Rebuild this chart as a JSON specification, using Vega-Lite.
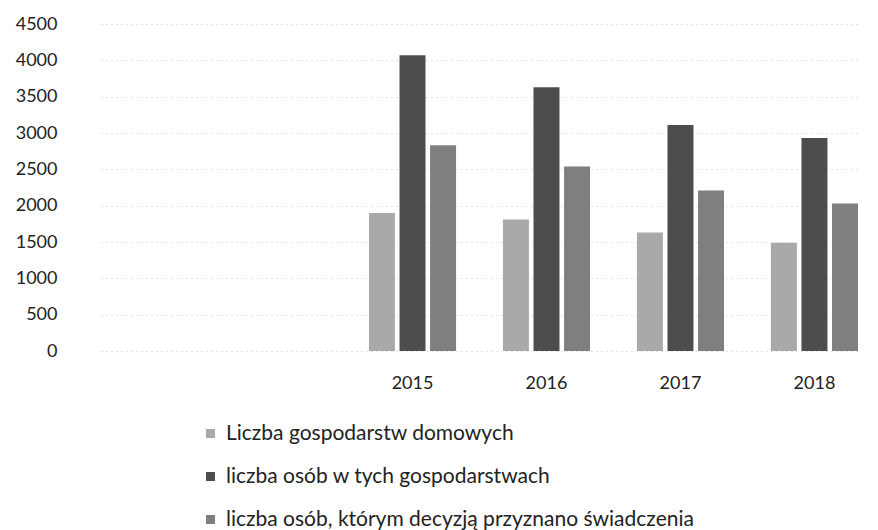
{
  "$schema": "https://vega.github.io/schema/vega-lite/v6.json",
  "width": 757,
  "height": 327,
  "autosize": {"type": "none"},
  "padding": {"left": 101, "top": 24, "right": 20, "bottom": 179},
  "background": "white",
  "config": {"view": {"stroke": null}, "font": "Lato"},
  "data": {"values": [
    {"rok": "2015", "seria": "Liczba gospodarstw domowych", "wartosc": 1900},
    {"rok": "2015", "seria": "liczba osób w tych gospodarstwach", "wartosc": 4070},
    {"rok": "2015", "seria": "liczba osób, którym decyzją przyznano świadczenia", "wartosc": 2830},
    {"rok": "2016", "seria": "Liczba gospodarstw domowych", "wartosc": 1810},
    {"rok": "2016", "seria": "liczba osób w tych gospodarstwach", "wartosc": 3630},
    {"rok": "2016", "seria": "liczba osób, którym decyzją przyznano świadczenia", "wartosc": 2540},
    {"rok": "2017", "seria": "Liczba gospodarstw domowych", "wartosc": 1630},
    {"rok": "2017", "seria": "liczba osób w tych gospodarstwach", "wartosc": 3110},
    {"rok": "2017", "seria": "liczba osób, którym decyzją przyznano świadczenia", "wartosc": 2210},
    {"rok": "2018", "seria": "Liczba gospodarstw domowych", "wartosc": 1490},
    {"rok": "2018", "seria": "liczba osób w tych gospodarstwach", "wartosc": 2930},
    {"rok": "2018", "seria": "liczba osób, którym decyzją przyznano świadczenia", "wartosc": 2030}
  ]},
  "mark": {"type": "bar"},
  "encoding": {
    "x": {
      "field": "rok", "type": "nominal",
      "scale": {"domain": ["2013", "2014", "2015", "2016", "2017", "2018"], "paddingInner": 0.35, "paddingOuter": 0},
      "axis": {"values": ["2015", "2016", "2017", "2018"], "title": null, "labelAngle": 0, "domain": false, "ticks": false, "labelFontSize": 18, "labelColor": "#222", "labelPadding": 23, "grid": false}
    },
    "xOffset": {
      "field": "seria", "type": "nominal",
      "sort": ["Liczba gospodarstw domowych", "liczba osób w tych gospodarstwach", "liczba osób, którym decyzją przyznano świadczenia"],
      "scale": {"paddingInner": 0.15}
    },
    "y": {
      "field": "wartosc", "type": "quantitative",
      "scale": {"domain": [0, 4500], "nice": false},
      "axis": {"values": [0, 500, 1000, 1500, 2000, 2500, 3000, 3500, 4000, 4500], "format": "d", "title": null, "domain": false, "ticks": false, "labelFontSize": 18, "labelColor": "#222", "labelPadding": 44, "grid": true, "gridColor": "#c8c8c8", "gridDash": [1, 4], "gridWidth": 1}
    },
    "color": {
      "field": "seria", "type": "nominal",
      "scale": {"domain": ["Liczba gospodarstw domowych", "liczba osób w tych gospodarstwach", "liczba osób, którym decyzją przyznano świadczenia"], "range": ["#a9a9a9", "#4d4d4d", "#7f7f7f"]},
      "legend": {"title": null, "orient": "none", "legendX": 99, "legendY": 399, "direction": "vertical", "symbolType": "square", "symbolSize": 81, "labelFontSize": 21, "labelColor": "#222", "rowPadding": 21, "labelLimit": 700, "symbolOffset": 0, "labelOffset": 5}
    }
  }
}
